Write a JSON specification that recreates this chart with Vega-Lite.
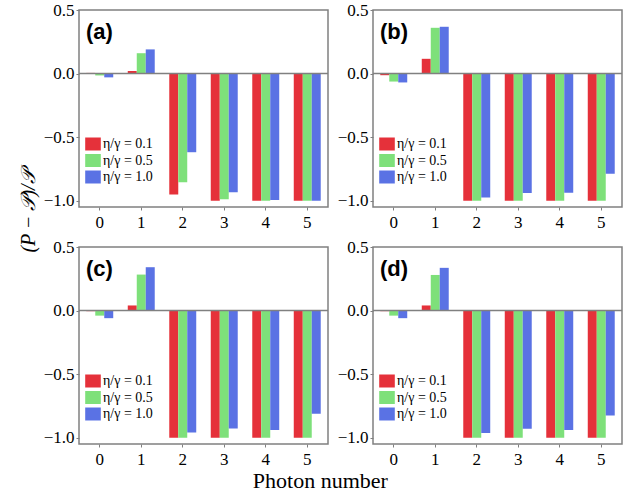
{
  "$schema": "https://vega.github.io/schema/vega-lite/v6.json",
  "padding": {"left": 17, "top": 0, "right": 5, "bottom": 5},
  "background": "white",
  "title": {"text": "Photon number", "orient": "bottom", "anchor": "middle", "frame": "bounds", "font": "Liberation Serif", "fontSize": 22, "fontWeight": "normal", "baseline": "top", "offset": 3, "dx": 0, "dy": 0},
  "data": {"values": [
    {"p":"a","n":"0","e":"0.1","v":0.005},{"p":"a","n":"0","e":"0.5","v":-0.015},{"p":"a","n":"0","e":"1.0","v":-0.03},
    {"p":"a","n":"1","e":"0.1","v":0.02},{"p":"a","n":"1","e":"0.5","v":0.16},{"p":"a","n":"1","e":"1.0","v":0.19},
    {"p":"a","n":"2","e":"0.1","v":-0.952},{"p":"a","n":"2","e":"0.5","v":-0.855},{"p":"a","n":"2","e":"1.0","v":-0.619},
    {"p":"a","n":"3","e":"0.1","v":-1.0},{"p":"a","n":"3","e":"0.5","v":-0.99},{"p":"a","n":"3","e":"1.0","v":-0.934},
    {"p":"a","n":"4","e":"0.1","v":-1.0},{"p":"a","n":"4","e":"0.5","v":-1.0},{"p":"a","n":"4","e":"1.0","v":-0.995},
    {"p":"a","n":"5","e":"0.1","v":-1.0},{"p":"a","n":"5","e":"0.5","v":-1.0},{"p":"a","n":"5","e":"1.0","v":-1.0},
    {"p":"b","n":"0","e":"0.1","v":-0.013},{"p":"b","n":"0","e":"0.5","v":-0.063},{"p":"b","n":"0","e":"1.0","v":-0.07},
    {"p":"b","n":"1","e":"0.1","v":0.116},{"p":"b","n":"1","e":"0.5","v":0.36},{"p":"b","n":"1","e":"1.0","v":0.368},
    {"p":"b","n":"2","e":"0.1","v":-1.0},{"p":"b","n":"2","e":"0.5","v":-1.0},{"p":"b","n":"2","e":"1.0","v":-0.976},
    {"p":"b","n":"3","e":"0.1","v":-1.0},{"p":"b","n":"3","e":"0.5","v":-1.0},{"p":"b","n":"3","e":"1.0","v":-0.939},
    {"p":"b","n":"4","e":"0.1","v":-1.0},{"p":"b","n":"4","e":"0.5","v":-1.0},{"p":"b","n":"4","e":"1.0","v":-0.937},
    {"p":"b","n":"5","e":"0.1","v":-1.0},{"p":"b","n":"5","e":"0.5","v":-1.0},{"p":"b","n":"5","e":"1.0","v":-0.788},
    {"p":"c","n":"0","e":"0.1","v":-0.005},{"p":"c","n":"0","e":"0.5","v":-0.04},{"p":"c","n":"0","e":"1.0","v":-0.06},
    {"p":"c","n":"1","e":"0.1","v":0.04},{"p":"c","n":"1","e":"0.5","v":0.283},{"p":"c","n":"1","e":"1.0","v":0.341},
    {"p":"c","n":"2","e":"0.1","v":-1.0},{"p":"c","n":"2","e":"0.5","v":-1.0},{"p":"c","n":"2","e":"1.0","v":-0.96},
    {"p":"c","n":"3","e":"0.1","v":-1.0},{"p":"c","n":"3","e":"0.5","v":-1.0},{"p":"c","n":"3","e":"1.0","v":-0.929},
    {"p":"c","n":"4","e":"0.1","v":-1.0},{"p":"c","n":"4","e":"0.5","v":-1.0},{"p":"c","n":"4","e":"1.0","v":-0.939},
    {"p":"c","n":"5","e":"0.1","v":-1.0},{"p":"c","n":"5","e":"0.5","v":-1.0},{"p":"c","n":"5","e":"1.0","v":-0.812},
    {"p":"d","n":"0","e":"0.1","v":-0.005},{"p":"d","n":"0","e":"0.5","v":-0.04},{"p":"d","n":"0","e":"1.0","v":-0.06},
    {"p":"d","n":"1","e":"0.1","v":0.04},{"p":"d","n":"1","e":"0.5","v":0.28},{"p":"d","n":"1","e":"1.0","v":0.336},
    {"p":"d","n":"2","e":"0.1","v":-1.0},{"p":"d","n":"2","e":"0.5","v":-1.0},{"p":"d","n":"2","e":"1.0","v":-0.963},
    {"p":"d","n":"3","e":"0.1","v":-1.0},{"p":"d","n":"3","e":"0.5","v":-1.0},{"p":"d","n":"3","e":"1.0","v":-0.93},
    {"p":"d","n":"4","e":"0.1","v":-1.0},{"p":"d","n":"4","e":"0.5","v":-1.0},{"p":"d","n":"4","e":"1.0","v":-0.94},
    {"p":"d","n":"5","e":"0.1","v":-1.0},{"p":"d","n":"5","e":"0.5","v":-1.0},{"p":"d","n":"5","e":"1.0","v":-0.825}
  ]},
  "columns": 2,
  "spacing": {"row": 40, "column": 45},
  "bounds": "flush",
  "resolve": {"scale": {"color": "independent"}, "legend": {"color": "independent"}},
  "concat": [
    {
      "title": {"text": "(a)"},
      "width": 249, "height": 197,
      "transform": [{"filter": "datum.p === 'a'"}],
      "layer": [
        {"mark": {"type": "bar"}, "encoding": {
          "x": {"field": "n", "type": "nominal", "title": null, "scale": {"paddingInner": 0.35, "paddingOuter": 0.175},
                "axis": {"labelAngle": 0, "labelPadding": 4, "labelFont": "Liberation Serif", "labelFontSize": 17, "labelColor": "black", "tickColor": "#808080", "tickSize": 3, "domain": false, "grid": false}},
          "xOffset": {"field": "e", "type": "nominal", "sort": ["0.1", "0.5", "1.0"]},
          "y": {"field": "v", "type": "quantitative", "scale": {"domain": [-1.05, 0.5], "nice": false, "zero": false},
                "axis": {"values": [-1, -0.5, 0, 0.5], "format": ".1f", "labelPadding": 2, "labelFont": "Liberation Serif", "labelFontSize": 17, "labelColor": "black", "tickColor": "#808080", "tickSize": 3, "domain": false, "grid": false,
                         "title": "(P − 𝒫)/𝒫", "titleX": -51, "titleY": 201, "titleFont": "Liberation Serif", "titleFontStyle": "italic", "titleFontSize": 20, "titleFontWeight": "normal", "titleAngle": -90, "titleBaseline": "middle", "titleAlign": "center", "titleColor": "black"}},
          "color": {"field": "e", "type": "nominal", "title": null, "scale": {"domain": ["0.1", "0.5", "1.0"], "range": ["#e5313a", "#7ee07a", "#5a72e4"]},
                    "legend": {"orient": "none", "legendX": 7, "legendY": 127, "symbolType": "M-1.2,-1H1.2V1H-1.2Z", "symbolSize": 169, "symbolStrokeWidth": 0, "symbolOpacity": 1, "labelFont": "Liberation Serif", "labelFontSize": 14, "labelColor": "black", "labelOffset": 3, "rowPadding": 2.5, "padding": 0, "labelExpr": "'η/γ = ' + datum.label"}}
        }},
        {"data": {"values": [{}]}, "mark": {"type": "rule", "color": "#808080", "strokeWidth": 1.5}, "encoding": {"y": {"datum": 0}}}
      ]
    },
    {
      "title": {"text": "(b)"},
      "width": 249, "height": 197,
      "transform": [{"filter": "datum.p === 'b'"}],
      "layer": [
        {"mark": {"type": "bar"}, "encoding": {
          "x": {"field": "n", "type": "nominal", "title": null, "scale": {"paddingInner": 0.35, "paddingOuter": 0.175},
                "axis": {"labelAngle": 0, "labelPadding": 4, "labelFont": "Liberation Serif", "labelFontSize": 17, "labelColor": "black", "tickColor": "#808080", "tickSize": 3, "domain": false, "grid": false}},
          "xOffset": {"field": "e", "type": "nominal", "sort": ["0.1", "0.5", "1.0"]},
          "y": {"field": "v", "type": "quantitative", "title": null, "scale": {"domain": [-1.05, 0.5], "nice": false, "zero": false},
                "axis": {"values": [-1, -0.5, 0, 0.5], "format": ".1f", "labelPadding": 2, "labelFont": "Liberation Serif", "labelFontSize": 17, "labelColor": "black", "tickColor": "#808080", "tickSize": 3, "domain": false, "grid": false}},
          "color": {"field": "e", "type": "nominal", "title": null, "scale": {"domain": ["0.1", "0.5", "1.0"], "range": ["#e5313a", "#7ee07a", "#5a72e4"]},
                    "legend": {"orient": "none", "legendX": 7, "legendY": 127, "symbolType": "M-1.2,-1H1.2V1H-1.2Z", "symbolSize": 169, "symbolStrokeWidth": 0, "symbolOpacity": 1, "labelFont": "Liberation Serif", "labelFontSize": 14, "labelColor": "black", "labelOffset": 3, "rowPadding": 2.5, "padding": 0, "labelExpr": "'η/γ = ' + datum.label"}}
        }},
        {"data": {"values": [{}]}, "mark": {"type": "rule", "color": "#808080", "strokeWidth": 1.5}, "encoding": {"y": {"datum": 0}}}
      ]
    },
    {
      "title": {"text": "(c)"},
      "width": 249, "height": 197,
      "transform": [{"filter": "datum.p === 'c'"}],
      "layer": [
        {"mark": {"type": "bar"}, "encoding": {
          "x": {"field": "n", "type": "nominal", "title": null, "scale": {"paddingInner": 0.35, "paddingOuter": 0.175},
                "axis": {"labelAngle": 0, "labelPadding": 4, "labelFont": "Liberation Serif", "labelFontSize": 17, "labelColor": "black", "tickColor": "#808080", "tickSize": 3, "domain": false, "grid": false}},
          "xOffset": {"field": "e", "type": "nominal", "sort": ["0.1", "0.5", "1.0"]},
          "y": {"field": "v", "type": "quantitative", "title": null, "scale": {"domain": [-1.05, 0.5], "nice": false, "zero": false},
                "axis": {"values": [-1, -0.5, 0, 0.5], "format": ".1f", "labelPadding": 2, "labelFont": "Liberation Serif", "labelFontSize": 17, "labelColor": "black", "tickColor": "#808080", "tickSize": 3, "domain": false, "grid": false}},
          "color": {"field": "e", "type": "nominal", "title": null, "scale": {"domain": ["0.1", "0.5", "1.0"], "range": ["#e5313a", "#7ee07a", "#5a72e4"]},
                    "legend": {"orient": "none", "legendX": 7, "legendY": 127, "symbolType": "M-1.2,-1H1.2V1H-1.2Z", "symbolSize": 169, "symbolStrokeWidth": 0, "symbolOpacity": 1, "labelFont": "Liberation Serif", "labelFontSize": 14, "labelColor": "black", "labelOffset": 3, "rowPadding": 2.5, "padding": 0, "labelExpr": "'η/γ = ' + datum.label"}}
        }},
        {"data": {"values": [{}]}, "mark": {"type": "rule", "color": "#808080", "strokeWidth": 1.5}, "encoding": {"y": {"datum": 0}}}
      ]
    },
    {
      "title": {"text": "(d)"},
      "width": 249, "height": 197,
      "transform": [{"filter": "datum.p === 'd'"}],
      "layer": [
        {"mark": {"type": "bar"}, "encoding": {
          "x": {"field": "n", "type": "nominal", "title": null, "scale": {"paddingInner": 0.35, "paddingOuter": 0.175},
                "axis": {"labelAngle": 0, "labelPadding": 4, "labelFont": "Liberation Serif", "labelFontSize": 17, "labelColor": "black", "tickColor": "#808080", "tickSize": 3, "domain": false, "grid": false}},
          "xOffset": {"field": "e", "type": "nominal", "sort": ["0.1", "0.5", "1.0"]},
          "y": {"field": "v", "type": "quantitative", "title": null, "scale": {"domain": [-1.05, 0.5], "nice": false, "zero": false},
                "axis": {"values": [-1, -0.5, 0, 0.5], "format": ".1f", "labelPadding": 2, "labelFont": "Liberation Serif", "labelFontSize": 17, "labelColor": "black", "tickColor": "#808080", "tickSize": 3, "domain": false, "grid": false}},
          "color": {"field": "e", "type": "nominal", "title": null, "scale": {"domain": ["0.1", "0.5", "1.0"], "range": ["#e5313a", "#7ee07a", "#5a72e4"]},
                    "legend": {"orient": "none", "legendX": 7, "legendY": 127, "symbolType": "M-1.2,-1H1.2V1H-1.2Z", "symbolSize": 169, "symbolStrokeWidth": 0, "symbolOpacity": 1, "labelFont": "Liberation Serif", "labelFontSize": 14, "labelColor": "black", "labelOffset": 3, "rowPadding": 2.5, "padding": 0, "labelExpr": "'η/γ = ' + datum.label"}}
        }},
        {"data": {"values": [{}]}, "mark": {"type": "rule", "color": "#808080", "strokeWidth": 1.5}, "encoding": {"y": {"datum": 0}}}
      ]
    }
  ],
  "config": {
    "view": {"stroke": "#808080", "strokeWidth": 1.5},
    "title": {"font": "Liberation Sans", "fontSize": 22, "fontWeight": "bold", "anchor": "start", "frame": "group", "baseline": "top", "offset": 0, "dx": 7, "dy": 47, "color": "black"},
    "bar": {"strokeWidth": 0}
  }
}
